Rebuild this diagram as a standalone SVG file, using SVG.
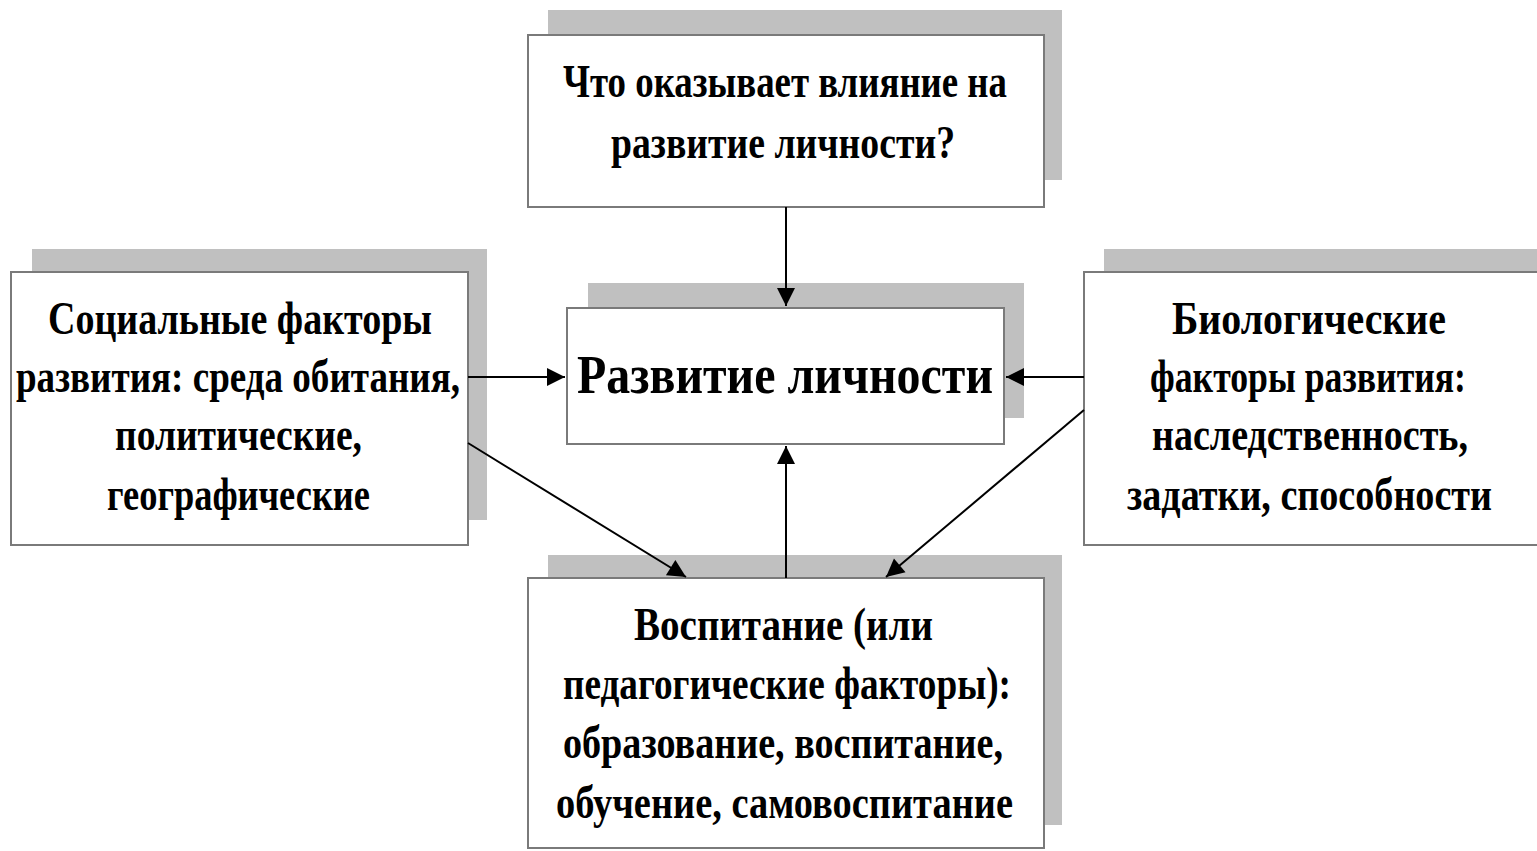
<svg xmlns="http://www.w3.org/2000/svg" width="1537" height="851" viewBox="0 0 1537 851">
<style>
.shadow{fill:#c0c0c0}
.box{fill:#fff;stroke:#7a7a7a;stroke-width:2}
.t{font-family:"Liberation Serif","Times New Roman",serif;font-weight:bold;font-size:46px;fill:#000;text-anchor:start}
.big{font-size:54px}
.conn{stroke:#000;stroke-width:2;fill:none;marker-end:url(#ah)}
</style>
<defs>
<marker id="ah" viewBox="0 0 10 10" refX="10" refY="5" markerWidth="9" markerHeight="9" markerUnits="userSpaceOnUse" orient="auto" style="overflow:visible">
<path d="M0,0 L10,5 L0,10 z" fill="#000" transform="scale(2)" transform-origin="10 5"/>
</marker>
</defs>
<rect width="1537" height="851" fill="#fff"/>

<g id="top">
<rect class="shadow" x="548" y="10" width="514" height="170"/>
<rect class="box" x="528" y="35" width="516" height="172"/>
<text class="t" x="563" y="97" textLength="444" lengthAdjust="spacingAndGlyphs">Что оказывает влияние на</text>
<text class="t" x="611" y="158" textLength="344" lengthAdjust="spacingAndGlyphs">развитие личности?</text>
</g>

<g id="social">
<rect class="shadow" x="32" y="249" width="455" height="271"/>
<rect class="box" x="11" y="272" width="457" height="273"/>
<text class="t" x="48" y="334" textLength="384" lengthAdjust="spacingAndGlyphs">Социальные факторы</text>
<text class="t" x="16" y="392" textLength="444" lengthAdjust="spacingAndGlyphs">развития: среда обитания,</text>
<text class="t" x="115" y="450" textLength="247" lengthAdjust="spacingAndGlyphs">политические,</text>
<text class="t" x="107" y="510" textLength="263" lengthAdjust="spacingAndGlyphs">географические</text>
</g>

<g id="bio">
<rect class="shadow" x="1104" y="249" width="433" height="271"/>
<rect class="box" x="1084" y="272" width="454" height="273"/>
<g transform="translate(1084,0) scale(0.8,1)">
<text class="t" x="110" y="334" textLength="342.5" lengthAdjust="spacingAndGlyphs">Биологические</text>
<text class="t" x="82.5" y="392" textLength="395" lengthAdjust="spacingAndGlyphs">факторы развития:</text>
<text class="t" x="85" y="450" textLength="395" lengthAdjust="spacingAndGlyphs">наследственность,</text>
<text class="t" x="53.75" y="510" textLength="456.25" lengthAdjust="spacingAndGlyphs">задатки, способности</text>
</g>
</g>

<g id="center">
<rect class="shadow" x="588" y="283" width="436" height="135"/>
<rect class="box" x="567" y="308" width="437" height="136"/>
<text class="t big" x="577" y="393" textLength="416" lengthAdjust="spacingAndGlyphs">Развитие личности</text>
</g>

<g id="upbringing">
<rect class="shadow" x="548" y="555" width="514" height="270"/>
<rect class="box" x="528" y="578" width="516" height="270"/>
<text class="t" x="634" y="640" textLength="299" lengthAdjust="spacingAndGlyphs">Воспитание (или</text>
<text class="t" x="563" y="699" textLength="448" lengthAdjust="spacingAndGlyphs">педагогические факторы):</text>
<text class="t" x="563" y="758" textLength="440" lengthAdjust="spacingAndGlyphs">образование, воспитание,</text>
<text class="t" x="556" y="818" textLength="457" lengthAdjust="spacingAndGlyphs">обучение, самовоспитание</text>
</g>

<g id="connectors">
<line class="conn" x1="786" y1="207" x2="786" y2="306"/>
<line class="conn" x1="468" y1="377" x2="565" y2="377"/>
<line class="conn" x1="1084" y1="377" x2="1006" y2="377"/>
<line class="conn" x1="786" y1="578" x2="786" y2="446"/>
<line class="conn" x1="468" y1="443" x2="686" y2="577"/>
<line class="conn" x1="1084" y1="410" x2="886" y2="577"/>
</g>
</svg>
